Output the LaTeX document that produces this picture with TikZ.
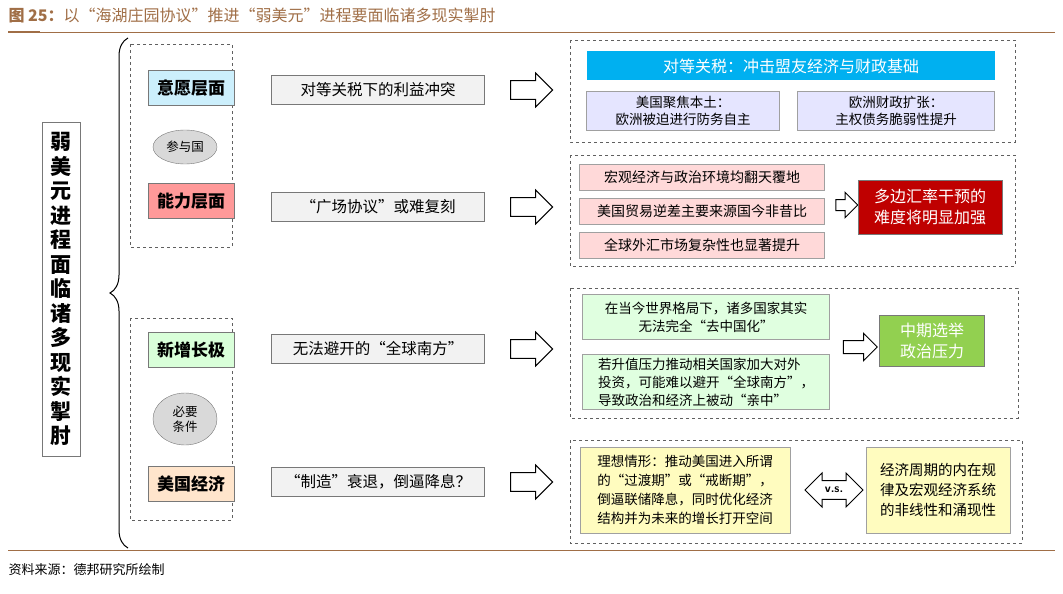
\documentclass[tikz,border=0pt]{standalone}
\usepackage{fontspec}
\setmainfont{Noto Sans CJK SC}
\usetikzlibrary{shapes.geometric,shapes.arrows,decorations.pathreplacing}
\definecolor{brown}{RGB}{160,110,70}
\definecolor{bd}{RGB}{120,120,120}
\definecolor{skyb}{RGB}{0,176,240}
\definecolor{lgreen}{RGB}{146,208,80}
\begin{document}
\begin{tikzpicture}[x=1pt,y=-1pt,
  dbox/.style={draw=bd!80!black,dashed,line width=0.8pt},
  lbox/.style={draw=bd,line width=0.6pt,minimum width=86pt,minimum height=35pt,font=\fontsize{17}{19}\selectfont\bfseries},
  mbox/.style={draw=bd,fill=gray!10,minimum width=213pt,minimum height=29pt,font=\fontsize{15.5}{17}\selectfont},
  rbox/.style={draw=bd!70,line width=0.5pt,font=\fontsize{14}{17}\selectfont,align=center,inner sep=2pt},
  harrow/.style={single arrow,draw=black,line width=1pt,fill=white,minimum height=42pt,minimum width=34pt,inner xsep=0pt,inner ysep=8pt},
  oval/.style={ellipse,draw=bd,fill=gray!30,minimum width=64pt,font=\fontsize{12.5}{15}\selectfont,align=center,inner sep=1pt}]
\useasboundingbox (0,0) rectangle (1063,594);
\node[anchor=west,text=brown,font=\fontsize{16}{18}\selectfont] (title) at (5,15) {\textbf{图 25：}以“海湖庄园协议”推进“弱美元”进程要面临诸多现实掣肘};
\draw[brown,line width=0.6pt] (8,32) -- (1055,32);
\draw[brown,line width=2pt] (8,32) -- (40,32);
\draw[brown,line width=0.6pt] (8,550) -- (1055,550);
\node[anchor=west,font=\fontsize{13}{15}\selectfont] (src) at (5,570) {资料来源：德邦研究所绘制};
% left box
\node[draw=bd,line width=0.8pt,minimum width=38pt,minimum height=334pt,font=\fontsize{21}{24.5}\selectfont\bfseries,align=center,inner sep=0pt] (main) at (61,289) {弱\\美\\元\\进\\程\\面\\临\\诸\\多\\现\\实\\掣\\肘};
\draw[line width=1pt,decorate,decoration={brace,amplitude=18pt,mirror}] (128,38) -- (128,548);
% dashed groups left
\draw[dbox] (130,44) rectangle (232,247);
\draw[dbox] (130,318) rectangle (232,520);
\node[lbox,fill=cyan!20] (yy) at (191,88) {意愿层面};
\node[oval,minimum height=34pt] (cy) at (185,147) {参与国};
\node[lbox,fill=red!40] (nl) at (191,201) {能力层面};
\node[lbox,fill=green!15] (xz) at (191,350) {新增长极};
\node[oval,minimum height=52pt] (by) at (185,419) {必要\\条件};
\node[lbox,fill=orange!20] (mg) at (191,484) {美国经济};
% middle
\node[mbox] (m1) at (378,90) {对等关税下的利益冲突};
\node[mbox] (m2) at (378,207) {“广场协议”或难复刻};
\node[mbox] (m3) at (378,349) {无法避开的“全球南方”};
\node[mbox] (m4) at (378,482) {“制造”衰退，倒逼降息？};
\node[harrow] (a1) at (527,90) {};
\node[harrow] (a2) at (527,207) {};
\node[harrow] (a3) at (527,349) {};
\node[harrow] (a4) at (527,482) {};
% right groups
\draw[dbox] (570,40) rectangle (1015,142);
\draw[dbox] (570,155) rectangle (1015,266);
\draw[dbox] (570,288) rectangle (1018,418);
\draw[dbox] (570,440) rectangle (1022,543);
\node[fill=skyb,text=white,minimum width=408pt,minimum height=29pt,font=\fontsize{16}{18}\selectfont] (r0) at (791,66) {对等关税：冲击盟友经济与财政基础};
\node[rbox,fill=blue!10,minimum width=193pt,minimum height=39pt,font=\fontsize{13.5}{17}\selectfont] (r1) at (683,111) {美国聚焦本土：\\欧洲被迫进行防务自主};
\node[rbox,fill=blue!10,minimum width=197pt,minimum height=39pt,font=\fontsize{13.5}{17}\selectfont] (r2) at (896,111) {欧洲财政扩张：\\主权债务脆弱性提升};
\node[rbox,fill=red!15,minimum width=245pt,minimum height=26pt] (p1) at (702,177) {宏观经济与政治环境均翻天覆地};
\node[rbox,fill=red!15,minimum width=245pt,minimum height=26pt] (p2) at (702,211) {美国贸易逆差主要来源国今非昔比};
\node[rbox,fill=red!15,minimum width=245pt,minimum height=26pt] (p3) at (702,245) {全球外汇市场复杂性也显著提升};
\node[harrow,minimum height=22pt,minimum width=22pt,inner ysep=5pt] (sa1) at (844,205) {};
\node[draw=bd,fill=red!75!black,text=white,minimum width=144pt,minimum height=54pt,align=center,font=\fontsize{16}{21}\selectfont] (red) at (930,207) {多边汇率干预的\\难度将明显加强};
\node[rbox,fill=green!12,minimum width=247pt,minimum height=45pt,font=\fontsize{13.5}{18}\selectfont] (g1) at (706,317) {在当今世界格局下，诸多国家其实\\无法完全“去中国化”};
\node[rbox,fill=green!12,minimum width=247pt,minimum height=55pt,align=left,font=\fontsize{13.5}{18}\selectfont] (g2) at (706,382) {若升值压力推动相关国家加大对外\\投资，可能难以避开“全球南方”，\\导致政治和经济上被动“亲中”};
\node[harrow,minimum height=34pt,minimum width=26pt,inner ysep=6pt] (sa2) at (857,347) {};
\node[draw=bd,fill=lgreen,text=white,minimum width=105pt,minimum height=51pt,align=center,font=\fontsize{16}{21}\selectfont] (gr) at (932,341) {中期选举\\政治压力};
\node[rbox,fill=yellow!25,minimum width=210pt,minimum height=86pt,align=left,font=\fontsize{13.5}{19}\selectfont] (y1) at (685,490) {理想情形：推动美国进入所谓\\的“过渡期”或“戒断期”，\\倒逼联储降息，同时优化经济\\结构并为未来的增长打开空间};
\node[double arrow,draw=black,line width=1pt,fill=white,minimum height=58pt,minimum width=34pt,double arrow head extend=7pt,inner xsep=1pt,inner ysep=5pt,font=\fontsize{12}{13}\selectfont\bfseries\sffamily] (vs) at (834,490) {v.s.};
\node[rbox,fill=yellow!25,minimum width=144pt,minimum height=86pt,font=\fontsize{14.5}{20}\selectfont] (y2) at (938,490) {经济周期的内在规\\律及宏观经济系统\\的非线性和涌现性};
\end{tikzpicture}
\end{document}
